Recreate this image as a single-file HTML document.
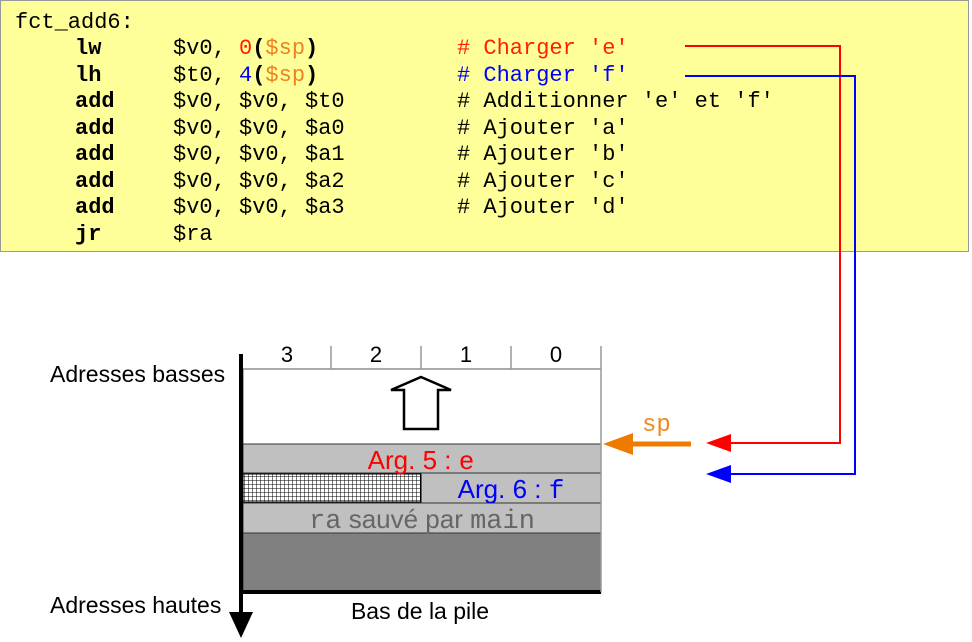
<!DOCTYPE html>
<html><head><meta charset="utf-8"><style>
html,body{margin:0;padding:0;background:#fff;}
svg{display:block;}
.m{font-family:"Liberation Mono",monospace;font-size:22px;fill:#000;}
.s{font-family:"Liberation Sans",sans-serif;font-size:23px;fill:#000;}
</style></head><body>
<svg width="972" height="642" viewBox="0 0 972 642" xmlns="http://www.w3.org/2000/svg">
<defs>
<pattern id="hat" width="4" height="4" patternUnits="userSpaceOnUse">
<rect width="4" height="4" fill="#fff"/>
<path d="M0 0H4M0 0V4" stroke="#000" stroke-width="1"/>
</pattern>
</defs>
<rect x="0.5" y="0.5" width="968" height="251" fill="#ffff99" stroke="#999"/>
<g class="m" xml:space="preserve">
<text x="15" y="28">fct_add6:</text>
<text x="75" y="54" font-weight="bold">lw</text>
<text x="75" y="81" font-weight="bold">lh</text>
<text x="75" y="107" font-weight="bold">add</text>
<text x="75" y="134" font-weight="bold">add</text>
<text x="75" y="160" font-weight="bold">add</text>
<text x="75" y="187" font-weight="bold">add</text>
<text x="75" y="213" font-weight="bold">add</text>
<text x="75" y="240" font-weight="bold">jr</text>
<text x="173" y="54">$v0, <tspan fill="#ff2000">0</tspan><tspan font-weight="bold">(</tspan><tspan fill="#f08020">$sp</tspan><tspan font-weight="bold">)</tspan></text>
<text x="173" y="81">$t0, <tspan fill="#0000ff">4</tspan><tspan font-weight="bold">(</tspan><tspan fill="#f08020">$sp</tspan><tspan font-weight="bold">)</tspan></text>
<text x="173" y="107">$v0, $v0, $t0</text>
<text x="173" y="134">$v0, $v0, $a0</text>
<text x="173" y="160">$v0, $v0, $a1</text>
<text x="173" y="187">$v0, $v0, $a2</text>
<text x="173" y="213">$v0, $v0, $a3</text>
<text x="173" y="240">$ra</text>
<text x="457" y="54" fill="#ff2000"># Charger 'e'</text>
<text x="457" y="81" fill="#0000ff"># Charger 'f'</text>
<text x="457" y="107"># Additionner 'e' et 'f'</text>
<text x="457" y="134"># Ajouter 'a'</text>
<text x="457" y="160"># Ajouter 'b'</text>
<text x="457" y="187"># Ajouter 'c'</text>
<text x="457" y="213"># Ajouter 'd'</text>
</g>
<polyline points="685,46 840,46 840,443 726,443" fill="none" stroke="#ff0000" stroke-width="2"/>
<polygon points="706,443 731,434 731,452" fill="#ff0000"/>
<polyline points="685,76 855,76 855,474 726,474" fill="none" stroke="#0000ff" stroke-width="2"/>
<polygon points="706,474 731,465 731,483" fill="#0000ff"/>
<line x1="632" y1="444" x2="691" y2="444" stroke="#ee7a00" stroke-width="5"/>
<polygon points="603,444 633,433 633,455" fill="#ee7a00"/>
<text x="642" y="431" class="m" style="fill:#ee8a20;font-size:24px">sp</text>
<rect x="243" y="369" width="358" height="75" fill="#fff" stroke="#555" stroke-width="1"/>
<rect x="243" y="444" width="358" height="29" fill="#c0c0c0" stroke="#333" stroke-width="1"/>
<rect x="243" y="473" width="358" height="30" fill="#c0c0c0" stroke="#333" stroke-width="1"/>
<rect x="243" y="474" width="178" height="28" fill="url(#hat)" stroke="#000" stroke-width="1"/>
<rect x="243" y="503" width="358" height="30" fill="#c0c0c0" stroke="#333" stroke-width="1"/>
<rect x="243" y="533" width="358" height="59" fill="#808080" stroke="#333" stroke-width="1"/>
<line x1="243" y1="592" x2="601" y2="592" stroke="#000" stroke-width="4"/>
<line x1="601" y1="346" x2="601" y2="592" stroke="#999" stroke-width="1.5"/>
<g stroke="#999" stroke-width="1.5">
<line x1="331" y1="346" x2="331" y2="369"/>
<line x1="421" y1="346" x2="421" y2="369"/>
<line x1="511" y1="346" x2="511" y2="369"/>
</g>
<g class="s" text-anchor="middle">
<text x="287" y="362" style="font-size:22px">3</text>
<text x="376" y="362" style="font-size:22px">2</text>
<text x="466" y="362" style="font-size:22px">1</text>
<text x="556" y="362" style="font-size:22px">0</text>
<text x="420" y="619">Bas de la pile</text>
</g>
<polygon points="421,377 451,390 438,390 438,429 404,429 404,390 391,390" fill="#fff" stroke="#000" stroke-width="2.5"/>
<text x="421" y="469" text-anchor="middle" class="s" style="font-size:26px;fill:#ff0000">Arg. 5 : <tspan font-family="Liberation Mono" font-size="26">e</tspan></text>
<text x="511" y="498" text-anchor="middle" class="s" style="font-size:26px;fill:#0000ff">Arg. 6 : <tspan font-family="Liberation Mono" font-size="26">f</tspan></text>
<text x="422" y="528" text-anchor="middle" class="s" style="font-size:26px;fill:#666"><tspan font-family="Liberation Mono" font-size="27">ra</tspan> sauvé par <tspan font-family="Liberation Mono" font-size="27">main</tspan></text>
<line x1="241" y1="354" x2="241" y2="615" stroke="#000" stroke-width="4"/>
<polygon points="229,612 253,612 241,638" fill="#000"/>
<text x="50" y="382" class="s">Adresses basses</text>
<text x="50" y="613" class="s">Adresses hautes</text>
</svg>
</body></html>
